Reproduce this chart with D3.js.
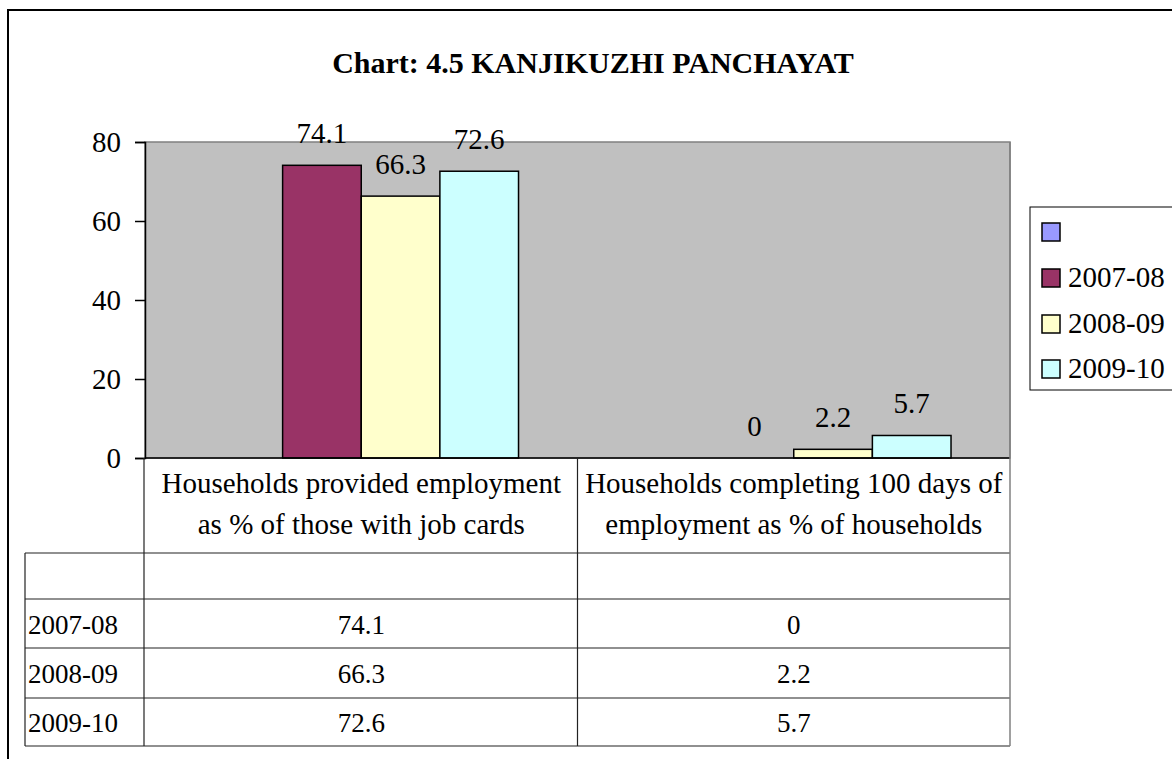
<!DOCTYPE html>
<html>
<head>
<meta charset="utf-8">
<script src="https://cdn.jsdelivr.net/npm/d3@7"></script>
<style>
  body { margin: 0; background: white; }
  text { font-family: "Liberation Serif", "Times New Roman", serif; fill: black; }
</style>
</head>
<body>
<div id="container"></div>
<script>
let w = 1172;
let h = 759;

// data
let title = "Chart: 4.5 KANJIKUZHI PANCHAYAT";
let categories = [
  ["Households provided employment", "as % of those with job cards"],
  ["Households completing 100 days of", "employment as % of households"]
];
let seriesNames = ["", "2007-08", "2008-09", "2009-10"];
let seriesBlank = [null, null];
let series0708 = [74.1, 0];
let series0809 = [66.3, 2.2];
let series0910 = [72.6, 5.7];
let seriesColors = ["#9999FF", "#993366", "#FFFFCC", "#CCFFFF"];
let yTicks = [0, 20, 40, 60, 80];

let allSeries = [seriesBlank, series0708, series0809, series0910];

let plotLeft = 145;
let plotRight = 1010;
let plotTop = 142;
let plotBottom = 458;

let viz = d3.select("#container")
  .append("svg")
  .attr("width", w)
  .attr("height", h)
  .style("background-color", "white");

// outer chart border
viz.append("rect")
  .attr("x", 8).attr("y", 10)
  .attr("width", 1300).attr("height", 900)
  .attr("fill", "white")
  .attr("stroke", "black")
  .attr("stroke-width", 2);

// title
viz.append("text")
  .text(title)
  .attr("x", 593).attr("y", 73)
  .attr("text-anchor", "middle")
  .attr("font-weight", "bold")
  .attr("font-size", "30px");

// scales
let xScale = d3.scaleBand().domain(d3.range(categories.length)).range([plotLeft, plotRight]);
let xInner = d3.scaleBand().domain(d3.range(seriesNames.length))
  .range([0, xScale.bandwidth()]).paddingOuter(0.75);
let yScale = d3.scaleLinear().domain([0, 80]).range([plotBottom, plotTop]);

// plot area
viz.append("rect")
  .attr("x", plotLeft).attr("y", plotTop)
  .attr("width", plotRight - plotLeft).attr("height", plotBottom - plotTop)
  .attr("fill", "#C0C0C0")
  .attr("stroke", "#808080")
  .attr("stroke-width", 1.5);

// bars
allSeries.forEach((vals, si) => {
  let g = viz.append("g").attr("class", "series" + si);
  vals.forEach((v, ci) => {
    if (v == null) return;
    let x0 = xScale(ci) + xInner(si);
    g.append("rect")
      .attr("x", x0)
      .attr("y", yScale(v))
      .attr("width", xInner.bandwidth())
      .attr("height", yScale(0) - yScale(v))
      .attr("fill", seriesColors[si])
      .attr("stroke", "black")
      .attr("stroke-width", 1.5);
    g.append("text")
      .text(v)
      .attr("x", x0 + xInner.bandwidth() / 2)
      .attr("y", yScale(v) - 22)
      .attr("text-anchor", "middle")
      .attr("font-size", "29px");
  });
});

// y axis
let yAxis = d3.axisLeft(yScale).tickValues(yTicks).tickSize(10).tickPadding(14);
let yAxisGroup = viz.append("g")
  .attr("transform", "translate(" + plotLeft + ",0)")
  .call(yAxis);
yAxisGroup.select(".domain").attr("stroke", "black").attr("stroke-width", 1.5);
yAxisGroup.selectAll("line").attr("stroke", "black").attr("stroke-width", 1.5);
yAxisGroup.selectAll("text")
  .attr("font-family", "Liberation Serif")
  .attr("font-size", "29px")
  .attr("fill", "black");

// x axis line
viz.append("line")
  .attr("x1", plotLeft).attr("x2", plotRight)
  .attr("y1", plotBottom).attr("y2", plotBottom)
  .attr("stroke", "black").attr("stroke-width", 1.5);

// data table
let rowLines = [553, 599, 648, 698, 746];
let tableLeft = 25;
let tableGroup = viz.append("g").attr("class", "table");

tableGroup.selectAll(".hline").data(rowLines).enter()
  .append("line")
  .attr("x1", tableLeft).attr("x2", plotRight)
  .attr("y1", d => d).attr("y2", d => d)
  .attr("stroke", "#222").attr("stroke-width", 1.2);

// vertical lines
tableGroup.append("line")
  .attr("x1", tableLeft).attr("x2", tableLeft)
  .attr("y1", rowLines[0]).attr("y2", rowLines[4])
  .attr("stroke", "#222").attr("stroke-width", 1.2);
tableGroup.append("line")
  .attr("x1", plotLeft - 1).attr("x2", plotLeft - 1)
  .attr("y1", plotBottom).attr("y2", rowLines[4])
  .attr("stroke", "#222").attr("stroke-width", 1.2);
tableGroup.append("line")
  .attr("x1", xScale(1)).attr("x2", xScale(1))
  .attr("y1", plotBottom).attr("y2", rowLines[4])
  .attr("stroke", "#222").attr("stroke-width", 1.2);
tableGroup.append("line")
  .attr("x1", plotRight).attr("x2", plotRight)
  .attr("y1", plotTop).attr("y2", rowLines[4])
  .attr("stroke", "#808080").attr("stroke-width", 1.5);

// category labels
categories.forEach((lines, ci) => {
  lines.forEach((line, li) => {
    tableGroup.append("text")
      .text(line)
      .attr("x", xScale(ci) + xScale.bandwidth() / 2)
      .attr("y", 493 + li * 41)
      .attr("text-anchor", "middle")
      .attr("font-size", "29px");
  });
});

// table rows
allSeries.forEach((vals, si) => {
  let yMid = (rowLines[si] + rowLines[si + 1]) / 2;
  tableGroup.append("text")
    .text(seriesNames[si])
    .attr("x", 28)
    .attr("y", yMid + 10)
    .attr("font-size", "27px");
  vals.forEach((v, ci) => {
    if (v == null) return;
    tableGroup.append("text")
      .text(v)
      .attr("x", xScale(ci) + xScale.bandwidth() / 2)
      .attr("y", yMid + 10)
      .attr("text-anchor", "middle")
      .attr("font-size", "27px");
  });
});

// legend
let legend = viz.append("g").attr("class", "legend");
legend.append("rect")
  .attr("x", 1030).attr("y", 207)
  .attr("width", 200).attr("height", 183)
  .attr("fill", "white")
  .attr("stroke", "black").attr("stroke-width", 1);

let legendRows = [232, 278, 324, 369];
seriesNames.forEach((name, si) => {
  legend.append("rect")
    .attr("x", 1042).attr("y", legendRows[si] - 9)
    .attr("width", 18).attr("height", 18)
    .attr("fill", seriesColors[si])
    .attr("stroke", "black").attr("stroke-width", 1.5);
  legend.append("text")
    .text(name)
    .attr("x", 1068)
    .attr("y", legendRows[si] + 9)
    .attr("font-size", "29px");
});
</script>
</body>
</html>
